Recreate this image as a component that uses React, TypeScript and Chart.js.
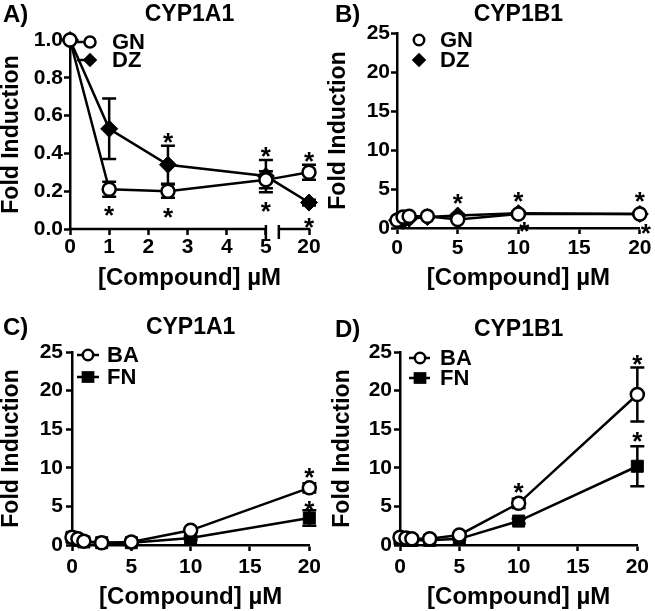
import React, { useEffect, useRef } from 'react';
import { Chart, registerables } from 'chart.js';

Chart.register(...registerables);

const FONT = "'Liberation Sans', Arial, Helvetica, sans-serif";

// ---------- Panel A: CYP1A1 (GN, DZ) – broken x axis 0–5 | 20
const concA = [0, 1, 2.5, 5, 20];
const gnA = [1.0, 0.21, 0.2, 0.26, 0.3];
const gnErrA = [0, 0.04, 0.035, 0.045, 0.04];
const dzA = [1.0, 0.53, 0.34, 0.28, 0.14];
const dzErrA = [0, 0.16, 0.1, 0.085, 0.015];
const xTicksA = [0, 1, 2, 3, 4, 5, 20];
const yTicksA = [0, 0.2, 0.4, 0.6, 0.8, 1.0];

// ---------- Panel B: CYP1B1 (GN, DZ)
const concB = [0, 0.5, 1, 2.5, 5, 10, 20];
const gnB = [1.0, 1.4, 1.5, 1.5, 1.1, 1.8, 1.8];
const gnErrB = [0, 0.1, 0.1, 0.1, 0.2, 0.2, 0.2];
const dzB = [1.0, 0.9, 1.2, 1.4, 1.6, 1.9, 1.8];
const dzErrB = [0, 0.1, 0.1, 0.1, 0.2, 0.2, 0.2];

// ---------- Panels C & D (BA, FN)
const concCD = [0, 0.5, 1, 2.5, 5, 10, 20];
const baC = [1.0, 0.8, 0.5, 0.3, 0.4, 1.9, 7.4];
const baErrC = [0, 0.1, 0.1, 0.1, 0.1, 0.2, 0.6];
const fnC = [1.0, 0.6, 0.4, 0.3, 0.3, 0.9, 3.5];
const fnErrC = [0, 0.1, 0.1, 0.1, 0.1, 0.2, 1.0];
const baD = [1.0, 0.9, 0.8, 0.8, 1.3, 5.4, 19.5];
const baErrD = [0, 0.1, 0.1, 0.1, 0.2, 0.6, 3.5];
const fnD = [0.8, 0.6, 0.6, 0.6, 0.8, 3.1, 10.2];
const fnErrD = [0, 0.1, 0.1, 0.1, 0.1, 0.3, 2.6];

const xTicksLin = [0, 5, 10, 15, 20];
const yTicksFold = [0, 5, 10, 15, 20, 25];

// broken-axis layout (display positions on the A axis)
const BREAK_END = 5;
const BREAK_RESUME = 5.33;
const BROKEN_POS = 6.1;
const brokenX = (c: number) => (c <= BREAK_END ? c : BROKEN_POS);

const STAR_SIZE = 26;
const CAP = 7;

type Marker = 'circle' | 'diamond' | 'square';
type SeriesSpec = { label: string; x: number[]; y: number[]; err: number[]; marker: Marker };
type StarSpec = { s: number; i: number; pos: 'above' | 'below'; dx?: number; gap?: number };
interface PanelSpec {
  letter: string; letterX: number; letterY: number;
  title: string; titlePad: [number, number];
  left: number; top: number; width: number; height: number;
  area: { l: number; r: number; b: number };
  xMax: number; xTicks: number[]; broken?: boolean;
  yMax: number; yTicks: number[]; yDecimals: number;
  yTitlePad: number; xTitlePad: number; xTickPad: number; yTickPad: number;
  legend: { dx: number; dy: number; row: number; labelDx: number; lineL: number; lineR: number; scale: number };
  series: SeriesSpec[]; stars: StarSpec[];
}

const markerHalf = (m: Marker) => (m === 'circle' ? 7.75 : m === 'diamond' ? 9 : 6.5);

const panels: PanelSpec[] = [
  {
    letter: 'A)', letterX: 3, letterY: 15, title: 'CYP1A1', titlePad: [1.2, 11.2],
    left: 0, top: 0, width: 327, height: 300, area: { l: 70, r: 309, b: 229 },
    xMax: BROKEN_POS, xTicks: xTicksA, broken: true,
    yMax: 1, yTicks: yTicksA, yDecimals: 1,
    yTitlePad: 0.5, xTitlePad: 10, xTickPad: 1.5, yTickPad: 1,
    legend: { dx: 20, dy: 2, row: 18, labelDx: 22, lineL: 13, lineR: 0, scale: 0.85 },
    series: [
      { label: 'GN', x: concA, y: gnA, err: gnErrA, marker: 'circle' },
      { label: 'DZ', x: concA, y: dzA, err: dzErrA, marker: 'diamond' },
    ],
    stars: [
      { s: 0, i: 1, pos: 'below' }, { s: 0, i: 2, pos: 'below' }, { s: 1, i: 3, pos: 'below' },
      { s: 0, i: 4, pos: 'above' }, { s: 1, i: 2, pos: 'above' }, { s: 1, i: 3, pos: 'above' },
      { s: 1, i: 4, pos: 'below', gap: 10 },
    ],
  },
  {
    letter: 'B)', letterX: 8, letterY: 15, title: 'CYP1B1', titlePad: [1.2, 4.2],
    left: 327, top: 0, width: 328, height: 300, area: { l: 70, r: 313, b: 228 },
    xMax: 20, xTicks: xTicksLin,
    yMax: 25, yTicks: yTicksFold, yDecimals: 0,
    yTitlePad: 0, xTitlePad: 10, xTickPad: 3.5, yTickPad: 1,
    legend: { dx: 22, dy: 7, row: 20, labelDx: 21, lineL: 0, lineR: 0, scale: 0.8 },
    series: [
      { label: 'GN', x: concB, y: gnB, err: gnErrB, marker: 'circle' },
      { label: 'DZ', x: concB, y: dzB, err: dzErrB, marker: 'diamond' },
    ],
    stars: [
      { s: 1, i: 4, pos: 'above' }, { s: 1, i: 5, pos: 'above' }, { s: 1, i: 6, pos: 'above' },
      { s: 0, i: 5, pos: 'below', dx: 6, gap: 4 }, { s: 0, i: 6, pos: 'below', dx: 6, gap: 6 },
    ],
  },
  {
    letter: 'C)', letterX: 3, letterY: 28, title: 'CYP1A1', titlePad: [14.2, 10.2],
    left: 0, top: 300, width: 327, height: 311, area: { l: 72, r: 310, b: 245 },
    xMax: 20, xTicks: xTicksLin,
    yMax: 25, yTicks: yTicksFold, yDecimals: 0,
    yTitlePad: 0.5, xTitlePad: 2, xTickPad: 6, yTickPad: 3,
    legend: { dx: 16, dy: 3, row: 22, labelDx: 19, lineL: 11, lineR: 11, scale: 0.8 },
    series: [
      { label: 'BA', x: concCD, y: baC, err: baErrC, marker: 'circle' },
      { label: 'FN', x: concCD, y: fnC, err: fnErrC, marker: 'square' },
    ],
    stars: [{ s: 0, i: 6, pos: 'above' }, { s: 1, i: 6, pos: 'above', gap: 6 }],
  },
  {
    letter: 'D)', letterX: 8, letterY: 30, title: 'CYP1B1', titlePad: [16.2, 8.2],
    left: 327, top: 300, width: 328, height: 311, area: { l: 73, r: 315, b: 245 },
    xMax: 20, xTicks: xTicksLin,
    yMax: 25, yTicks: yTicksFold, yDecimals: 0,
    yTitlePad: 4.5, xTitlePad: 2, xTickPad: 6, yTickPad: 2,
    legend: { dx: 20, dy: 6, row: 20, labelDx: 20, lineL: 11, lineR: 10, scale: 0.8 },
    series: [
      { label: 'BA', x: concCD, y: baD, err: baErrD, marker: 'circle' },
      { label: 'FN', x: concCD, y: fnD, err: fnErrD, marker: 'square' },
    ],
    stars: [{ s: 0, i: 5, pos: 'above' }, { s: 0, i: 6, pos: 'above' }, { s: 1, i: 6, pos: 'above', gap: 11 }],
  },
];

function drawMarker(ctx: CanvasRenderingContext2D, m: Marker, x: number, y: number, k: number) {
  ctx.save();
  ctx.fillStyle = '#000';
  ctx.strokeStyle = '#000';
  if (m === 'circle') {
    ctx.beginPath();
    ctx.arc(x, y, 6.5 * k, 0, Math.PI * 2);
    ctx.fillStyle = '#fff';
    ctx.fill();
    ctx.lineWidth = 2.5;
    ctx.stroke();
  } else if (m === 'diamond') {
    const r = 8.5 * (k < 0.9 ? 0.85 : 1);
    ctx.beginPath();
    ctx.moveTo(x, y - r); ctx.lineTo(x + r, y); ctx.lineTo(x, y + r); ctx.lineTo(x - r, y);
    ctx.closePath();
    ctx.fill();
  } else {
    const h = 9 * Math.SQRT1_2;
    ctx.fillRect(x - h, y - h + 0.5, 2 * h, 2 * h - 1);
  }
  ctx.restore();
}

function decorPlugin(p: PanelSpec) {
  const X = (v: number) => (p.broken ? brokenX(v) : v);
  return {
    id: 'decor',
    beforeDatasetsDraw(chart: any) {
      const { ctx } = chart;
      const xs = chart.scales.x, ys = chart.scales.y;
      ctx.save();
      ctx.strokeStyle = '#000';
      ctx.lineWidth = 2.5;
      p.series.forEach((s) =>
        s.x.forEach((xv, i) => {
          const e = s.err[i];
          if (!e) return;
          const px = xs.getPixelForValue(X(xv));
          const t = ys.getPixelForValue(s.y[i] + e);
          const b = ys.getPixelForValue(s.y[i] - e);
          ctx.beginPath();
          ctx.moveTo(px, t); ctx.lineTo(px, b);
          ctx.moveTo(px - CAP, t); ctx.lineTo(px + CAP, t);
          ctx.moveTo(px - CAP, b); ctx.lineTo(px + CAP, b);
          ctx.stroke();
        })
      );
      if (p.broken) {
        const y = chart.chartArea.bottom;
        const x0 = chart.chartArea.left - 1.25;
        const x5 = xs.getPixelForValue(BREAK_END);
        const xr = xs.getPixelForValue(BREAK_RESUME);
        const xe = xs.getPixelForValue(BROKEN_POS) + 1.25;
        ctx.beginPath();
        ctx.moveTo(x0, y); ctx.lineTo(x5, y);
        ctx.moveTo(x5, y - 4); ctx.lineTo(x5, y + 10);
        ctx.moveTo(xr, y); ctx.lineTo(xe, y);
        ctx.moveTo(xr, y - 4); ctx.lineTo(xr, y + 10);
        ctx.stroke();
      }
      ctx.restore();
    },
    afterDatasetsDraw(chart: any) {
      const { ctx } = chart;
      const xs = chart.scales.x, ys = chart.scales.y;
      ctx.save();
      ctx.fillStyle = '#000';
      ctx.font = `bold ${STAR_SIZE}px ${FONT}`;
      ctx.textAlign = 'center';
      ctx.textBaseline = 'alphabetic';
      p.stars.forEach((st) => {
        const s = p.series[st.s];
        const v = s.y[st.i], e = s.err[st.i];
        const px = xs.getPixelForValue(X(s.x[st.i])) + (st.dx || 0);
        const py = ys.getPixelForValue(v);
        const half = markerHalf(s.marker);
        let cy: number;
        if (st.pos === 'above') {
          const top = Math.min(ys.getPixelForValue(v + e), py - half);
          cy = top - (st.gap ?? 9);
        } else {
          const bot = Math.max(ys.getPixelForValue(v - e), py + half);
          cy = bot + (st.gap ?? 13);
        }
        ctx.fillText('*', px, cy + 0.555 * STAR_SIZE);
      });
      ctx.restore();
    },
    afterDraw(chart: any) {
      const { ctx, chartArea } = chart;
      ctx.save();
      ctx.fillStyle = '#000';
      ctx.font = `bold 24px ${FONT}`;
      ctx.textAlign = 'left';
      ctx.textBaseline = 'middle';
      ctx.fillText(p.letter, p.letterX, p.letterY);
      const L = p.legend;
      p.series.forEach((s, k) => {
        const mx = chartArea.left + L.dx;
        const my = chartArea.top + L.dy + k * L.row;
        if (L.lineL || L.lineR) {
          ctx.strokeStyle = '#000';
          ctx.lineWidth = 2.5;
          ctx.beginPath();
          ctx.moveTo(mx - L.lineL, my); ctx.lineTo(mx + L.lineR, my);
          ctx.stroke();
        }
        drawMarker(ctx, s.marker, mx, my, L.scale);
        ctx.fillStyle = '#000';
        ctx.font = `bold 22px ${FONT}`;
        ctx.fillText(s.label, mx + L.labelDx, my + 1);
      });
      ctx.restore();
    },
  };
}

function makeConfig(p: PanelSpec): any {
  const X = (v: number) => (p.broken ? brokenX(v) : v);
  const tickFont = { family: FONT, size: 21, weight: 'bold' as const, lineHeight: 1 };
  const datasets = p.series.map((s) => ({
    label: s.label,
    data: s.x.map((xv, i) => ({ x: X(xv), y: s.y[i] })),
    borderColor: '#000',
    borderWidth: 2.5,
    backgroundColor: s.marker === 'circle' ? '#fff' : '#000',
    pointStyle: s.marker === 'circle' ? 'circle' : s.marker === 'diamond' ? 'rectRot' : 'rect',
    pointRadius: s.marker === 'circle' ? 6.5 : 8.5,
    pointBackgroundColor: s.marker === 'circle' ? '#fff' : '#000',
    pointBorderColor: '#000',
    pointBorderWidth: s.marker === 'circle' ? 2.5 : 1,
    tension: 0,
    clip: false,
    fill: false,
  }));
  const W = p.width, H = p.height;
  return {
    type: 'line',
    data: { datasets },
    options: {
      responsive: false,
      animation: false,
      events: [],
      layout: { autoPadding: false, padding: { left: 0, top: 0, bottom: 0, right: W - p.area.r } },
      plugins: {
        legend: { display: false },
        tooltip: { enabled: false },
        title: {
          display: true,
          text: p.title,
          fullSize: false,
          color: '#000',
          font: { family: FONT, size: 23, weight: 'bold', lineHeight: 1.2 },
          padding: { top: p.titlePad[0], bottom: p.titlePad[1] },
        },
      },
      scales: {
        x: {
          type: 'linear',
          min: 0,
          max: p.xMax,
          afterFit: (s: any) => { s.height = H - p.area.b; },
          afterBuildTicks: (s: any) => { s.ticks = p.xTicks.map((t) => ({ value: X(t) })); },
          ticks: {
            color: '#000',
            font: tickFont,
            padding: p.xTickPad,
            maxRotation: 0,
            autoSkip: false,
            callback: (_v: any, i: number) => String(p.xTicks[i]),
          },
          grid: { display: true, drawOnChartArea: false, drawTicks: true, tickLength: 6, tickWidth: 2.5, tickColor: '#000' },
          border: { display: !p.broken, color: '#000', width: 2.5 },
          title: {
            display: true, text: '[Compound] \u00b5M', color: '#000',
            font: { family: FONT, size: 24, weight: 'bold', lineHeight: 1 },
            padding: { top: 0, bottom: p.xTitlePad },
          },
        },
        y: {
          type: 'linear',
          min: 0,
          max: p.yMax,
          afterFit: (s: any) => { s.width = p.area.l; },
          afterBuildTicks: (s: any) => { s.ticks = p.yTicks.map((t) => ({ value: t })); },
          ticks: {
            color: '#000',
            font: tickFont,
            padding: p.yTickPad,
            autoSkip: false,
            callback: (_v: any, i: number) => p.yTicks[i].toFixed(p.yDecimals),
          },
          grid: { display: true, drawOnChartArea: false, drawTicks: true, tickLength: 6, tickWidth: 2.5, tickColor: '#000' },
          border: { display: true, color: '#000', width: 2.5 },
          title: {
            display: true, text: 'Fold Induction', color: '#000',
            font: { family: FONT, size: 23, weight: 'bold', lineHeight: 1 },
            padding: { top: p.yTitlePad, bottom: 0 },
          },
        },
      },
    },
    plugins: [decorPlugin(p)],
  };
}

function Panel({ p }: { p: PanelSpec }) {
  const ref = useRef<HTMLCanvasElement>(null);
  useEffect(() => {
    const chart = new Chart(ref.current as HTMLCanvasElement, makeConfig(p));
    return () => chart.destroy();
  }, [p]);
  return (
    <canvas
      ref={ref}
      width={p.width}
      height={p.height}
      style={{ position: 'absolute', left: p.left, top: p.top, width: p.width, height: p.height, display: 'block' }}
    />
  );
}

export default function App() {
  return (
    <div style={{ position: 'absolute', left: 0, top: 0, width: 655, height: 611, background: '#fff', overflow: 'hidden' }}>
      {panels.map((p) => (
        <Panel key={p.letter} p={p} />
      ))}
    </div>
  );
}
